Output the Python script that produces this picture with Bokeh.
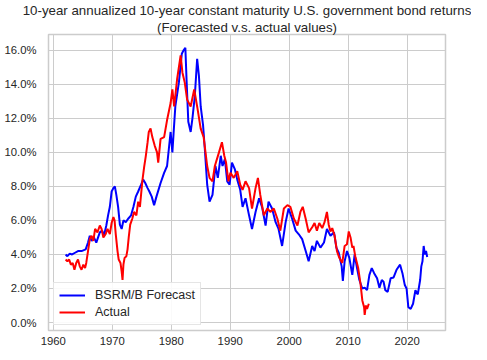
from bokeh.plotting import figure
from bokeh.models import Title, PrintfTickFormatter, FixedTicker, Range1d
from bokeh.embed import file_html
from bokeh.resources import INLINE

# Forecast (BSRM/B) series: year, % return
fc_year = [1962.1, 1962.4, 1962.8, 1963.2, 1963.7, 1964.2, 1964.8, 1965.5, 1965.9, 1966.2,
           1966.5, 1966.9, 1967.3, 1967.9, 1968.3, 1968.6, 1969.0, 1969.3, 1969.6, 1969.9,
           1970.2, 1970.45, 1970.7, 1971.0, 1971.3, 1971.6, 1971.9, 1972.3, 1972.7, 1973.2,
           1973.6, 1974.0, 1974.4, 1974.9, 1975.25, 1975.6, 1976.0, 1976.3, 1976.7, 1977.1,
           1977.5, 1978.2, 1978.8, 1979.3, 1979.6, 1979.9, 1980.2, 1980.4, 1980.7, 1981.3,
           1981.8, 1982.1, 1982.4, 1982.6, 1982.9, 1983.3, 1983.6, 1984.0, 1984.4, 1984.7,
           1985.0, 1985.4, 1985.7, 1986.1, 1986.5, 1987.0, 1987.5, 1987.9, 1988.4, 1988.7,
           1989.1, 1989.5, 1989.9, 1990.3, 1990.8, 1991.2, 1991.7, 1992.1, 1992.6, 1993.2,
           1993.7, 1994.3, 1994.9, 1995.4, 1996.0, 1996.5, 1997.1, 1997.7, 1998.2, 1998.8,
           1999.4, 1999.9, 2000.5, 2001.1, 2001.6, 2002.2, 2002.8, 2003.3, 2003.9, 2004.3,
           2004.7, 2005.3, 2005.9, 2006.4, 2007.0, 2007.6, 2008.0, 2008.4, 2008.9, 2009.1,
           2009.4, 2009.8, 2010.2, 2010.7, 2011.1, 2011.5, 2011.9, 2012.4, 2012.8, 2013.2,
           2013.6, 2014.0, 2014.4, 2014.9, 2015.3, 2015.7, 2016.0, 2016.3, 2016.7, 2017.2,
           2017.7, 2018.2, 2018.8, 2019.2, 2019.6, 2019.9, 2020.2, 2020.6, 2021.0, 2021.4,
           2021.8, 2022.2, 2022.4, 2022.6, 2022.8, 2023.0, 2023.2, 2023.4]
fc_val = [4.0, 3.9, 4.05, 4.0, 4.1, 4.2, 4.2, 4.3, 4.7, 5.1,
          4.8, 5.0, 4.7, 5.3, 5.4, 5.1, 5.7, 6.3, 6.8, 7.7,
          7.9, 8.0, 7.5, 6.8, 5.75, 5.5, 6.0, 5.9, 6.1, 6.3,
          6.8, 7.4, 7.7, 8.1, 8.4, 8.2, 7.9, 7.7, 7.4, 6.9,
          7.4, 8.2, 8.8, 9.2, 10.2, 11.2, 10.0, 11.1, 12.7, 14.1,
          15.8, 16.0, 16.15, 14.3, 11.8, 11.2, 12.0, 13.3, 15.5, 14.5,
          12.7, 11.6, 10.2, 8.1, 7.1, 7.5, 9.2, 8.5, 9.8, 9.2,
          9.6, 8.3, 8.1, 9.4, 9.0, 8.4, 7.8, 6.8, 7.3, 6.3,
          5.5, 6.5, 7.3, 6.8, 5.7, 7.1, 6.7, 5.9, 5.5, 4.5,
          5.9, 6.7, 6.1, 5.4, 5.2, 4.9, 4.2, 3.6, 4.5, 4.2,
          4.8, 4.4, 4.7, 5.5, 5.1, 5.3, 4.4, 4.1, 3.3, 2.45,
          3.6, 4.2, 3.8, 2.8, 4.0, 3.2, 2.5, 2.0, 2.05, 1.9,
          2.8, 3.2, 2.9, 2.6, 2.05, 2.5, 2.4, 1.9, 1.8, 2.6,
          2.65, 3.1, 3.4, 2.9, 2.2, 2.0, 0.9, 0.8, 1.1, 1.9,
          1.65, 2.5, 3.3, 3.6, 4.5, 4.0, 4.2, 3.85]

# Actual series: year, % return
ac_year = [1962.1, 1962.4, 1962.7, 1963.0, 1963.3, 1963.6, 1963.9, 1964.2, 1964.5, 1964.8,
           1965.1, 1965.4, 1965.6, 1965.9, 1966.2, 1966.5, 1966.8, 1967.1, 1967.5, 1967.9,
           1968.2, 1968.5, 1968.9, 1969.2, 1969.6, 1969.9, 1970.2, 1970.4, 1970.6, 1970.9,
           1971.1, 1971.4, 1971.6, 1971.75, 1971.9, 1972.1, 1972.4, 1972.6, 1972.8, 1973.05,
           1973.4, 1973.7, 1974.1, 1974.4, 1974.7, 1975.1, 1975.4, 1975.7, 1976.0, 1976.2,
           1976.5, 1976.8, 1977.2, 1977.6, 1977.8, 1978.2, 1978.8, 1979.3, 1979.9, 1980.2,
           1980.5, 1981.0, 1981.6, 1981.9, 1982.3, 1982.7, 1983.3, 1983.9, 1984.4, 1985.0,
           1985.5, 1986.1, 1986.5, 1987.0, 1987.4, 1988.1, 1988.6, 1989.0, 1989.3, 1989.7,
           1990.05, 1990.6, 1991.2, 1991.7, 1992.1, 1992.6, 1993.2, 1993.7, 1994.3, 1994.7,
           1995.1, 1995.7, 1996.3, 1996.8, 1997.4, 1998.0, 1998.5, 1999.1, 1999.7, 2000.2,
           2000.8, 2001.4, 2001.9, 2002.3, 2002.8, 2003.3, 2003.9, 2004.3, 2004.7, 2005.1,
           2005.6, 2006.0, 2006.4, 2006.7, 2007.0, 2007.3, 2007.7, 2008.1, 2008.5, 2009.0,
           2009.4, 2009.8, 2010.1, 2010.4, 2010.7, 2010.9, 2011.2, 2011.7, 2012.1, 2012.4,
           2012.7, 2012.8, 2013.0, 2013.2, 2013.5]
ac_val = [3.7, 3.6, 3.7, 3.4, 3.5, 3.1, 3.5, 3.7, 3.3, 3.1,
          3.4, 3.2, 3.5, 4.2, 4.9, 5.1, 4.8, 5.5, 5.3, 5.7,
          5.5, 5.0, 5.2, 5.5, 5.2, 5.85, 6.2, 6.0, 5.2, 4.2,
          3.7, 3.5, 3.0, 2.5, 3.4, 3.8, 3.9, 4.3, 5.0, 5.75,
          6.1, 6.5, 6.3, 7.1, 6.8, 8.3, 9.1, 9.8, 10.6, 11.2,
          11.4, 10.9, 10.4, 10.0, 9.4, 10.8, 10.9, 11.9, 12.9, 13.7,
          12.7, 14.3, 15.7, 14.7, 14.1, 13.1, 12.7, 13.7, 12.7, 11.4,
          10.9, 9.2, 8.5, 8.3, 9.2, 10.0, 10.6, 9.8, 9.4, 8.3,
          8.8, 8.5, 8.9, 8.1, 7.8, 8.3, 7.9, 6.7, 7.9, 8.5,
          7.5, 6.3, 6.7, 6.5, 6.7, 6.1, 5.4, 6.7, 6.9, 6.8,
          6.1, 5.7, 6.5, 6.8, 6.1, 5.3, 5.6, 5.85, 5.4, 5.85,
          5.55, 5.9, 6.5, 5.75, 5.35, 5.55, 5.1, 4.2, 3.8, 3.5,
          4.5, 4.6, 5.35, 5.0, 4.4, 4.5, 3.9, 3.2, 2.25, 1.3,
          0.9, 0.45, 1.0, 0.8, 1.1]

y_ticks = [0, 2, 4, 6, 8, 10, 12, 14, 16]
x_ticks = [1960, 1970, 1980, 1990, 2000, 2010, 2020]

FONT = "Liberation Sans"
GRID = "#cccccc"
TXT = "#262626"

p = figure(width=471, height=344, frame_width=397, frame_height=296,
           output_backend="svg", toolbar_location=None,
           x_range=Range1d(1959.2, 2026.5), y_range=Range1d(-0.47, 16.93),
           min_border_left=48, min_border_right=26, min_border_top=29, min_border_bottom=0)

p.add_layout(Title(text="(Forecasted v.s. actual values)", align="center",
                   text_font=FONT, text_font_size="13.3px", text_font_style="normal",
                   text_color=TXT, standoff=0, offset=0), "above")
p.add_layout(Title(text="10-year annualized 10-year constant maturity U.S. government bond returns",
                   align="center", text_font=FONT, text_font_size="13.3px",
                   text_font_style="normal", text_color=TXT, standoff=0, offset=0), "above")

p.line(fc_year, fc_val, line_color="blue", line_width=2, legend_label="BSRM/B Forecast")
p.line(ac_year, ac_val, line_color="red", line_width=2, legend_label="Actual")

p.xaxis.ticker = FixedTicker(ticks=x_ticks)
p.yaxis.ticker = FixedTicker(ticks=y_ticks)
p.yaxis.formatter = PrintfTickFormatter(format="%.1f%%")
for ax in (p.xaxis, p.yaxis):
    ax.axis_line_color = None
    ax.major_tick_line_color = None
    ax.minor_tick_line_color = None
    ax.major_tick_out = 0
    ax.major_tick_in = 0
    ax.minor_tick_out = 0
    ax.minor_tick_in = 0
    ax.major_label_text_font = FONT
    ax.major_label_text_font_size = "11.3px"
    ax.major_label_text_color = TXT
p.yaxis.major_label_standoff = 12
p.xaxis.major_label_standoff = 6

p.grid.grid_line_color = GRID
p.grid.grid_line_width = 1
p.outline_line_color = GRID
p.outline_line_width = 1.5
p.background_fill_color = "white"
p.border_fill_color = "white"

lg = p.legend[0]
lg.location = "bottom_left"
lg.border_line_color = GRID
lg.border_line_width = 1
lg.background_fill_alpha = 0.9
lg.label_text_font = FONT
lg.label_text_font_size = "12.5px"
lg.label_text_color = TXT
lg.glyph_width = 26
lg.glyph_height = 14
lg.label_height = 14
lg.spacing = 3
lg.padding = 5
lg.margin = 5
lg.label_standoff = 10

open("out.html", "w").write(file_html(p, INLINE))
